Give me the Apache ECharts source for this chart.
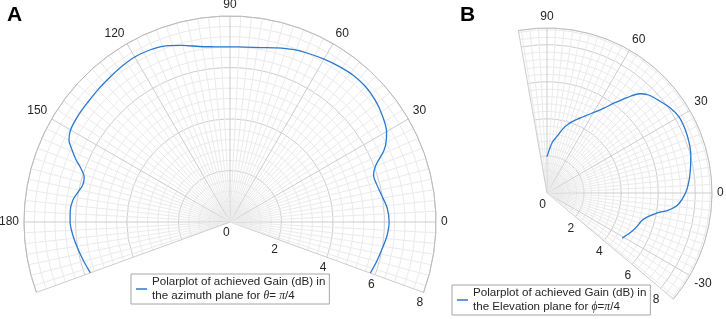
<!DOCTYPE html>
<html>
<head>
<meta charset="utf-8">
<script src="https://cdn.jsdelivr.net/npm/echarts@6/dist/echarts.min.js"></script>
<style>
html, body { margin: 0; padding: 0; background: #fff; }
#chart { width: 726px; height: 319px; }
</style>
</head>
<body>
<div id="chart"></div>
<script>
// panel A: gain (dB) vs azimuth angle (deg)
var azimuthAngles = [-20, -15, -10, -5, 0, 5, 10, 15, 18, 21, 25, 28, 30, 35, 40, 45, 50, 55, 60, 65,
    70, 75, 80, 85, 90, 95, 100, 105, 110, 115, 120, 125, 130, 135, 140, 145, 150, 153, 155, 158,
    160, 163, 166, 169, 172, 176, 180, 185, 190, 195, 200];
var azimuthGain = [5.80, 5.90, 6.00, 6.12, 6.18, 6.13, 5.98, 5.87, 5.86, 6.05, 6.60, 6.88, 7.02, 7.22, 7.36, 7.44, 7.44, 7.38, 7.30, 7.22,
    7.13, 7.00, 6.88, 6.82, 6.80, 6.83, 6.92, 7.10, 7.28, 7.37, 7.40, 7.36, 7.30, 7.26, 7.22, 7.20, 7.15, 7.02, 6.80, 6.45,
    6.18, 5.92, 5.90, 6.02, 6.16, 6.22, 6.21, 6.12, 6.00, 5.88, 5.77];

// panel B: gain (dB) vs elevation angle (deg)
var elevationAngles = [90, 87, 84, 80, 76, 73, 70, 66, 63, 59, 56, 53, 50, 47, 44, 40, 35, 30, 25, 20,
    15, 10, 5, 0, -5, -8, -10, -13, -16, -20, -23, -27, -31];
var elevationGain = [1.96, 2.33, 2.75, 3.10, 3.58, 3.88, 4.13, 4.43, 4.70, 5.12, 5.54, 6.10, 6.72, 7.32, 7.61, 7.81, 8.06, 8.22, 8.21, 8.14,
    8.03, 7.86, 7.69, 7.47, 7.10, 6.62, 6.08, 5.62, 5.34, 5.19, 5.08, 4.91, 4.73];

var azimuthTickLabels = [0, 30, 60, 90, 120, 150, 180];
var elevationTickLabels = [-30, 0, 30, 60, 90];
var radiusTickLabels = [0, 2, 4, 6, 8];

var FONT = '"Liberation Sans", Arial, sans-serif';
var TEXT = '#262626';
var BLUE = '#2a78d0';
var MAJOR = '#cdcdcd';
var MINOR = '#ebebeb';
var EDGE = '#bcbcbc';

function pairs(gain, angles) {
    return gain.map(function (g, i) { return [g, angles[i]]; });
}

// one split line per degree: edges and every 30 deg dark, every 3 deg light, rest hidden
function spokeColors(min, max) {
    var colors = [];
    for (var a = min; a <= max; a++) {
        if (a === min || a === max || a % 30 === 0) colors.push(MAJOR);
        else if (a % 3 === 0) colors.push(MINOR);
        else colors.push('rgba(0,0,0,0)');
    }
    return colors;
}

// rings every 0.4, major every 2
function ringColors(max) {
    var colors = [];
    for (var i = 0; i <= Math.ceil(max / 0.4); i++) colors.push(i % 5 === 0 ? MAJOR : MINOR);
    return colors;
}

function angleAxis(index, min, max, labels) {
    return {
        polarIndex: index,
        type: 'value',
        min: min,
        max: max,
        interval: 1,
        startAngle: min,
        endAngle: max,
        clockwise: false,
        axisLine: { lineStyle: { color: EDGE, width: 1 } },
        axisTick: { show: false },
        axisLabel: {
            margin: 5,
            color: TEXT,
            fontSize: 12,
            fontFamily: FONT,
            formatter: function (v) { return labels.indexOf(v) >= 0 ? String(v) : ''; }
        },
        splitLine: { lineStyle: { color: spokeColors(min, max), width: 1 } }
    };
}

// negative margin puts the labels under the lower edge, as in the figure
function radiusAxis(index, max, margin, vAlign) {
    return {
        polarIndex: index,
        type: 'value',
        min: 0,
        max: max,
        interval: 0.4,
        axisLine: { show: false },
        axisTick: { show: false },
        axisLabel: {
            margin: margin,
            align: 'center',
            verticalAlign: vAlign,
            color: TEXT,
            fontSize: 12,
            fontFamily: FONT,
            formatter: function (v) {
                var r = Math.round(v * 10) / 10;
                return radiusTickLabels.indexOf(r) >= 0 ? String(r) : '';
            }
        },
        splitLine: { lineStyle: { color: ringColors(max), width: 1 } }
    };
}

function legendText(name) {
    if (name === 'A') {
        return '{t|Polarplot of achieved Gain (dB) in}\n{t|the azimuth plane for }{m|θ}{t|= }{m|π}{t|/4}';
    }
    return '{t|Polarplot of achieved Gain (dB) in}\n{t|the Elevation plane for }{m|ϕ}{t|=}{m|π}{t|/4}';
}

function legend(name, left, top) {
    return {
        data: [name],
        left: left,
        top: top,
        z: -1,
        padding: [2, 4, 2, 5],
        itemWidth: 11,
        itemHeight: 1.5,
        icon: 'rect',
        borderColor: '#a6a6a6',
        borderWidth: 1,
        backgroundColor: '#fff',
        selectedMode: false,
        formatter: legendText,
        textStyle: {
            rich: {
                t: { fontSize: 11.6, fontFamily: FONT, color: TEXT, lineHeight: 14 },
                m: { fontSize: 11.6, fontFamily: '"Liberation Serif", serif', fontStyle: 'italic', color: TEXT, lineHeight: 14 }
            }
        }
    };
}

var chart = echarts.init(document.getElementById('chart'));
chart.setOption({
    animation: false,
    backgroundColor: '#fff',
    title: [
        { text: 'A', left: 7, top: 5, padding: 0, textStyle: { fontSize: 21, fontWeight: 'bold', color: '#000', fontFamily: FONT } },
        { text: 'B', left: 460, top: 5, padding: 0, textStyle: { fontSize: 21, fontWeight: 'bold', color: '#000', fontFamily: FONT } }
    ],
    legend: [legend('A', 131, 274), legend('B', 452, 285)],
    polar: [
        { center: [230, 222], radius: 206 },
        { center: [547, 193], radius: 165 }
    ],
    angleAxis: [
        angleAxis(0, -20, 200, azimuthTickLabels),
        angleAxis(1, -40, 100, elevationTickLabels)
    ],
    radiusAxis: [radiusAxis(0, 8, -11, 'middle'), radiusAxis(1, 8.9, -7, 'top')],
    series: [
        {
            name: 'A', type: 'line', coordinateSystem: 'polar', polarIndex: 0,
            data: pairs(azimuthGain, azimuthAngles),
            showSymbol: false, smooth: 0.3, silent: true,
            lineStyle: { color: BLUE, width: 1.3 }, itemStyle: { color: BLUE }
        },
        {
            name: 'B', type: 'line', coordinateSystem: 'polar', polarIndex: 1,
            data: pairs(elevationGain, elevationAngles),
            showSymbol: false, smooth: 0.3, silent: true,
            lineStyle: { color: BLUE, width: 1.3 }, itemStyle: { color: BLUE }
        }
    ]
});
</script>
</body>
</html>
